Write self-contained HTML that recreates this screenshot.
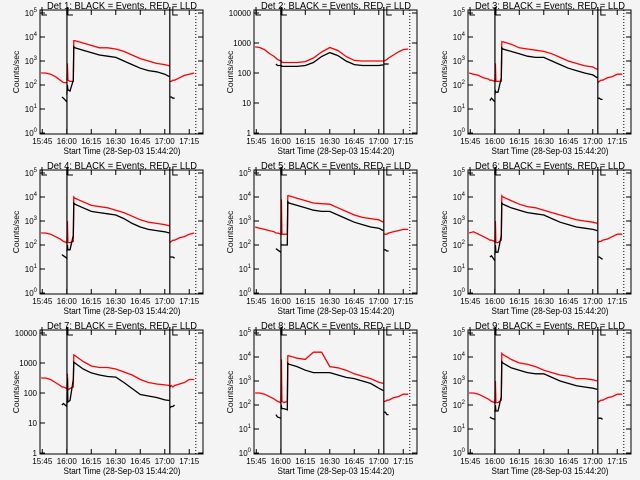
<!DOCTYPE html>
<html><head><meta charset="utf-8"><style>
html,body{margin:0;padding:0;background:#f4f4f4;}
svg{display:block;font-family:"Liberation Sans",sans-serif;}
</style></head><body>
<svg id="c" width="640" height="480" viewBox="0 0 640 480"></svg>
<script>
const detNames = ["1","2","3","4","5","6","7","8","9"];
const decades = [5,4,5,5,5,5,4,5,5];
const xTickLabels = ["15:45","16:00","16:15","16:30","16:45","17:00","17:15"];
const xTickMinutes = [0,15,30,45,60,75,90];
const preT = [-0.7,2,5,8,11,12,13,15];
const midT = [15.1,15.4,15.7,17,19,19.3,20,25,30,35,40,45,50,55,60,65,70,75,77.8];
const postT = [78.2,79,80,81,84,87,90,93];
const n = null;
const redPre = [
 [2.5,2.5,2.45,2.35,2.2,2.15,2.1,2.1],
 [2.87,2.85,2.78,2.65,2.55,2.5,2.45,2.4],
 [2.5,2.45,2.4,2.3,2.25,2.2,2.2,2.15],
 [2.5,2.5,2.45,2.35,2.25,2.2,2.15,2.1],
 [2.75,2.7,2.65,2.6,2.55,2.5,2.5,2.45],
 [2.5,2.55,2.45,2.35,2.25,2.2,2.2,2.15],
 [2.5,2.5,2.45,2.35,2.25,2.2,2.2,2.15],
 [2.5,2.5,2.45,2.35,2.25,2.2,2.15,2.1],
 [2.5,2.5,2.45,2.35,2.25,2.2,2.15,2.1]];
const blackPre = [
 [n,n,n,n,n,1.5,1.45,1.3],
 [n,n,n,n,n,2.3,2.25,2.25],
 [n,n,n,n,n,1.35,1.45,1.3],
 [n,n,n,n,n,1.6,1.55,1.45],
 [n,n,n,n,n,1.85,1.8,1.7],
 [n,n,n,n,n,1.5,1.55,1.35],
 [n,n,n,n,n,1.6,1.65,1.55],
 [n,n,n,n,n,1.6,1.5,1.45],
 [n,n,n,n,n,1.5,1.45,1.4]];
const redMid = [
 [2.2,2.9,2.2,2.15,2.15,3.85,3.85,3.75,3.65,3.55,3.55,3.5,3.4,3.25,3.1,3.0,2.9,2.85,2.8],
 [2.4,2.4,2.35,2.35,2.35,2.35,2.35,2.35,2.38,2.5,2.7,2.85,2.75,2.55,2.42,2.4,2.4,2.4,2.4],
 [2.15,2.9,2.15,2.15,2.15,3.8,3.8,3.7,3.55,3.5,3.45,3.4,3.3,3.15,3.0,2.9,2.8,2.75,2.65],
 [2.1,3.0,2.1,2.1,2.15,4.0,3.95,3.8,3.65,3.6,3.55,3.45,3.35,3.2,3.05,2.95,2.9,2.85,2.8],
 [2.45,3.9,2.45,2.45,2.45,4.05,4.05,3.95,3.85,3.75,3.72,3.7,3.55,3.4,3.25,3.15,3.1,3.05,2.95],
 [2.1,3.0,2.1,2.1,2.2,4.05,4.0,3.85,3.7,3.6,3.55,3.45,3.35,3.25,3.15,3.05,3.0,2.95,2.9],
 [2.15,2.65,2.1,2.15,2.2,3.27,3.25,3.05,2.9,2.85,2.85,2.8,2.7,2.6,2.45,2.35,2.3,2.27,2.25],
 [2.15,3.9,2.15,2.1,2.15,4.05,4.05,3.95,3.9,4.2,4.2,3.6,3.55,3.45,3.3,3.2,3.1,2.95,2.9],
 [2.1,3.0,2.1,2.1,2.2,4.15,4.1,3.9,3.75,3.7,3.6,3.45,3.35,3.25,3.2,3.1,3.1,3.05,3.0]];
const blackMid = [
 [1.6,2.0,1.8,1.75,2.2,3.6,3.55,3.45,3.35,3.25,3.2,3.15,3.0,2.85,2.7,2.6,2.55,2.45,2.35],
 [2.25,2.25,2.22,2.22,2.22,2.22,2.22,2.22,2.25,2.35,2.55,2.68,2.58,2.4,2.28,2.25,2.25,2.25,2.27],
 [1.6,1.75,1.7,1.7,2.3,3.55,3.5,3.4,3.3,3.2,3.15,3.15,3.0,2.85,2.7,2.6,2.5,2.42,2.3],
 [1.75,2.0,1.8,1.8,2.4,3.75,3.7,3.55,3.4,3.35,3.3,3.25,3.1,2.9,2.75,2.65,2.6,2.55,2.5],
 [2.05,2.0,2.0,2.0,2.0,3.8,3.75,3.65,3.55,3.45,3.4,3.4,3.25,3.1,2.95,2.85,2.75,2.7,2.6],
 [1.6,2.0,1.7,1.7,2.4,3.75,3.7,3.55,3.45,3.35,3.3,3.25,3.1,2.95,2.85,2.75,2.7,2.65,2.6],
 [1.6,2.5,1.7,1.75,2.45,3.03,3.0,2.8,2.67,2.6,2.55,2.53,2.35,2.15,1.95,1.9,1.85,1.77,1.75],
 [1.9,1.95,1.85,1.85,1.8,3.75,3.7,3.6,3.45,3.35,3.35,3.35,3.25,3.15,3.1,3.0,2.9,2.7,2.6],
 [1.7,2.0,1.75,1.75,2.35,3.8,3.75,3.55,3.45,3.35,3.3,3.3,3.15,3.0,2.9,2.8,2.75,2.7,2.65]];
const redPost = [
 [2.15,2.15,2.2,2.2,2.3,2.4,2.45,2.5],
 [2.4,2.42,2.45,2.5,2.6,2.7,2.78,2.8],
 [2.1,2.15,2.2,2.2,2.3,2.35,2.45,2.45],
 [2.1,2.15,2.2,2.2,2.3,2.35,2.45,2.5],
 [2.45,2.45,2.45,2.5,2.55,2.6,2.65,2.65],
 [2.1,2.15,2.15,2.2,2.25,2.35,2.45,2.45],
 [2.2,2.25,2.2,2.25,2.3,2.35,2.45,2.45],
 [2.15,2.15,2.2,2.2,2.3,2.35,2.45,2.45],
 [2.1,2.15,2.2,2.2,2.3,2.35,2.45,2.45]];
const blackPost = [
 [1.5,1.5,1.45,1.45,n,n,n,n],
 [2.3,2.3,2.3,2.3,n,n,n,n],
 [1.45,1.45,1.4,1.4,n,n,n,n],
 [1.5,1.5,1.5,1.45,n,n,n,n],
 [1.8,1.8,1.75,1.75,n,n,n,n],
 [1.5,1.5,1.45,1.4,n,n,n,n],
 [1.5,1.55,1.55,1.6,n,n,n,n],
 [1.7,1.7,1.6,1.6,n,n,n,n],
 [1.45,1.45,1.45,1.4,n,n,n,n]];

const svg = document.getElementById('c');
const NS = 'http://www.w3.org/2000/svg';
function mk(tag, attrs, parent){const e=document.createElementNS(NS,tag);for(const k in attrs)e.setAttribute(k,attrs[k]);parent.appendChild(e);return e;}
const lefts=[40,254,468], tops=[10,170,330], W=163, H=124;
const xMin=-1.4, pxPerMin=1.633;

for(let p=0;p<9;p++){
  const col=p%3,row=Math.floor(p/3);
  const L=lefts[col],T=tops[row],B=T+H,R=L+W;
  const dec=decades[p], dy=120/dec;
  const xs=t=>L+(t-xMin)*pxPerMin;
  const ys=v=>B-1-v*dy;
  const g=mk('g',{},svg);
  
  
  // title
  const tt=mk('text',{x:L+82,y:T-1,'font-size':'10','text-anchor':'middle',fill:'#000',textLength:150,lengthAdjust:'spacingAndGlyphs'},g);
  tt.textContent='Det '+detNames[p]+': BLACK = Events, RED = LLD';
  
  
  // y title
  const yt=mk('text',{x:0,y:0,'font-size':'8.5','text-anchor':'middle',transform:`translate(${L-21},${T+62}) rotate(-90)`},g);
  yt.textContent='Counts/sec';
  
  
  // x title
  const xt=mk('text',{x:L+82,y:B+20,'font-size':'9','text-anchor':'middle',textLength:117,lengthAdjust:'spacingAndGlyphs'},g);
  xt.textContent='Start Time (28-Sep-03 15:44:20)';
  
  
  // y ticks
  for(let d=0;d<=dec;d++){
    const y=ys(d);
    mk('line',{x1:L,x2:L+5,y1:y,y2:y,stroke:'#000','stroke-width':1},g);
    mk('line',{x1:R-5,x2:R,y1:y,y2:y,stroke:'#000','stroke-width':1},g);
    const lab=mk('text',{x:L-3,y:y+3,'font-size':'8','text-anchor':'end'},g);
    
    
    if(dec===4){lab.textContent=String(Math.pow(10,d));}
    else{lab.textContent='10';const s=mk('tspan',{'font-size':'6',dy:'-4'},lab);s.textContent=String(d);}
  }
  // x ticks
  for(let i=0;i<xTickMinutes.length;i++){
    const x=xs(xTickMinutes[i]);
    mk('line',{x1:x,x2:x,y1:B,y2:B-5,stroke:'#000'},g);
    mk('line',{x1:x,x2:x,y1:T,y2:T+5,stroke:'#000'},g);
    const lab=mk('text',{x:x,y:B+10,'font-size':'8','text-anchor':'middle'},g);
    lab.textContent=xTickLabels[i];
    
    
  }
  // series
  function draw(ts,vs,color,name){
    let d='',pen=false;
    for(let i=0;i<ts.length;i++){
      if(vs[i]===null){pen=false;continue;}
      d+=(pen?'L':'M')+xs(ts[i]).toFixed(1)+' '+ys(vs[i]).toFixed(1)+' ';pen=true;
    }
    const e=mk('path',{d:d,fill:'none',stroke:color,'stroke-width':1.3},g);
    
    
  }
  draw(preT,redPre[p],'#ff0000','red-lld-pre');
  draw(midT,redMid[p],'#ff0000','red-lld-main');
  draw(postT,redPost[p],'#ff0000','red-lld-post');
  draw(preT,blackPre[p],'#000','black-events-pre');
  draw(midT,blackMid[p],'#000','black-events-main');
  draw(postT,blackPost[p],'#000','black-events-post');
  // vertical markers
  const v1=xs(15.1),v2=xs(78.1),v3=xs(94);
  mk('line',{x1:v1,x2:v1,y1:T-3,y2:B,stroke:'#000','stroke-width':1.2},g);
  mk('line',{x1:v2,x2:v2,y1:T-3,y2:B,stroke:'#000','stroke-width':1.2},g);
  mk('line',{x1:v3,x2:v3,y1:T,y2:B,stroke:'#000','stroke-width':1,'stroke-dasharray':'1,2'},g);
  // brackets
  [L+2,v1+1,v2+3].forEach(bx=>{
    mk('path',{d:`M${bx} ${T-3} L${bx} ${T+5} L${bx+5} ${T+5}`,fill:'none',stroke:'#000'},g);
  });
  // frame
  const fr=mk('rect',{x:L,y:T,width:W,height:H,fill:'none',stroke:'#000','stroke-width':1},g);
  
  
}
</script>
</body></html>
